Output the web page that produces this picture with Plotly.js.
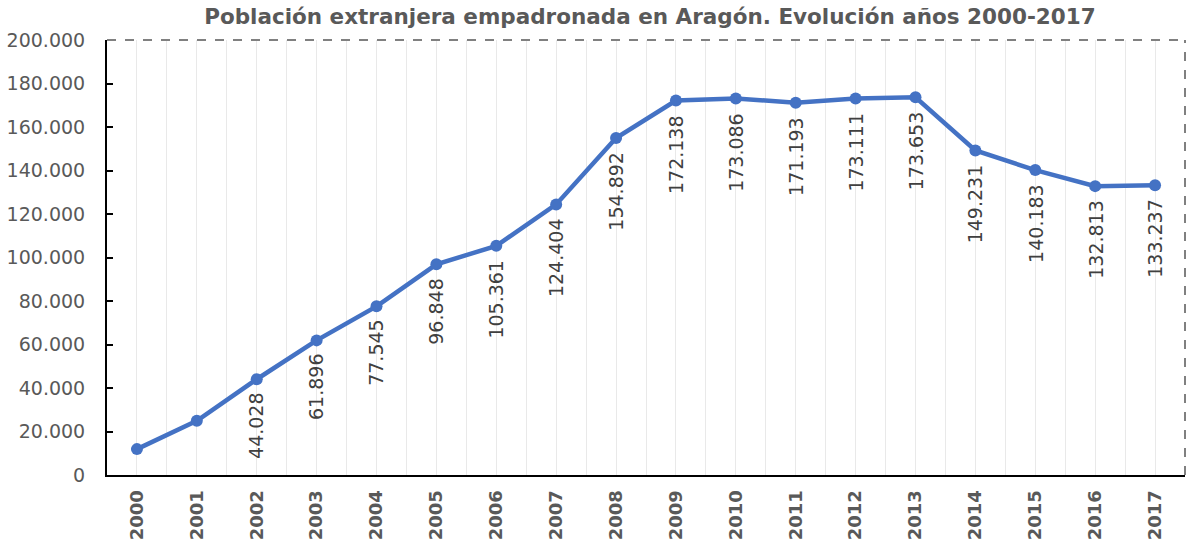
<!DOCTYPE html>
<html>
<head>
<meta charset="utf-8">
<script src="https://cdn.plot.ly/plotly-3.0.1.min.js"></script>
<style>
  body { margin: 0; background: #fff; }
  #plot { width: 1186px; height: 546px; }
</style>
</head>
<body>
<div id="plot"></div>
<script>
// years on the x axis
let years = [2000, 2001, 2002, 2003, 2004, 2005, 2006, 2007, 2008,
             2009, 2010, 2011, 2012, 2013, 2014, 2015, 2016, 2017]

// foreign population registered (padrón)
let poblacion = [11900, 24900, 44028, 61896, 77545, 96848, 105361, 124404, 154892,
                 172138, 173086, 171193, 173111, 173653, 149231, 140183, 132813, 133237]

// the first two points have no label in the original
let conEtiqueta = [false, false, true, true, true, true, true, true, true,
                   true, true, true, true, true, true, true, true, true]

let yTicks = [0, 20000, 40000, 60000, 80000, 100000, 120000, 140000, 160000, 180000, 200000]

let fontFamily = '"DejaVu Sans", Verdana, sans-serif'

// spanish number format: 172.138
function formatear(n) {
    return n.toString().replace(/\B(?=(\d{3})+(?!\d))/g, '.')
}

// gridlines sit on every year and halfway between years
let xTickVals = []
let xTickText = []
years.forEach(y => {
    xTickVals.push(y - 0.5, y)
    xTickText.push('', String(y))
})
xTickVals.push(years[years.length - 1] + 0.5)
xTickText.push('')

let trace = {
    x: years,
    y: poblacion,
    type: 'scatter',
    mode: 'lines+markers',
    line: { color: '#4472C4', width: 4.5 },
    marker: { color: '#4472C4', size: 12 },
    hoverinfo: 'x+y'
}

// rotated value labels under each point
let etiquetas = years
    .map((year, i) => ({ year: year, value: poblacion[i], show: conEtiqueta[i] }))
    .filter(d => d.show)
    .map(d => ({
        x: d.year,
        y: d.value,
        xref: 'x',
        yref: 'y',
        text: formatear(d.value),
        textangle: -90,
        showarrow: false,
        xanchor: 'center',
        yanchor: 'top',
        yshift: -12,
        font: { family: fontFamily, size: 19, color: '#404040' }
    }))

let layout = {
    width: 1186,
    height: 546,
    margin: { l: 107, r: 1, t: 40, b: 71 },
    paper_bgcolor: '#ffffff',
    plot_bgcolor: '#ffffff',
    showlegend: false,
    title: {
        text: 'Población extranjera empadronada en Aragón. Evolución años 2000-2017',
        x: 0.548,
        xanchor: 'center',
        y: 0.97,
        yanchor: 'middle',
        font: { family: fontFamily, size: 21.5, color: '#595959', weight: 'bold' }
    },
    xaxis: {
        range: [1999.5, 2017.5],
        tickmode: 'array',
        tickvals: xTickVals,
        ticktext: xTickText,
        tickangle: -90,
        tickfont: { family: fontFamily, size: 18, color: '#595959', weight: 'bold' },
        ticklabelstandoff: 6,
        showgrid: true,
        gridcolor: '#e9e9e9',
        gridwidth: 1,
        showline: true,
        linecolor: '#000000',
        linewidth: 2,
        ticks: '',
        zeroline: false,
        fixedrange: true
    },
    yaxis: {
        range: [0, 200000],
        tickmode: 'array',
        tickvals: yTicks,
        ticktext: yTicks.map(formatear),
        tickfont: { family: fontFamily, size: 19, color: '#595959' },
        showgrid: false,
        showline: true,
        linecolor: '#000000',
        linewidth: 2,
        ticks: 'inside',
        ticklen: 6,
        tickwidth: 2,
        tickcolor: '#000000',
        ticklabelstandoff: 16,
        zeroline: false,
        fixedrange: true
    },
    // dashed border on the top and right of the plot area
    shapes: [
        { type: 'line', xref: 'paper', yref: 'paper', x0: 0, x1: 1, y0: 1, y1: 1,
          line: { color: '#808080', width: 2, dash: 'dash' } },
        { type: 'line', xref: 'paper', yref: 'paper', x0: 1, x1: 1, y0: 0, y1: 1,
          line: { color: '#808080', width: 2, dash: 'dash' } }
    ],
    annotations: etiquetas
}

Plotly.newPlot('plot', [trace], layout, { displayModeBar: false, staticPlot: true })
</script>
</body>
</html>
